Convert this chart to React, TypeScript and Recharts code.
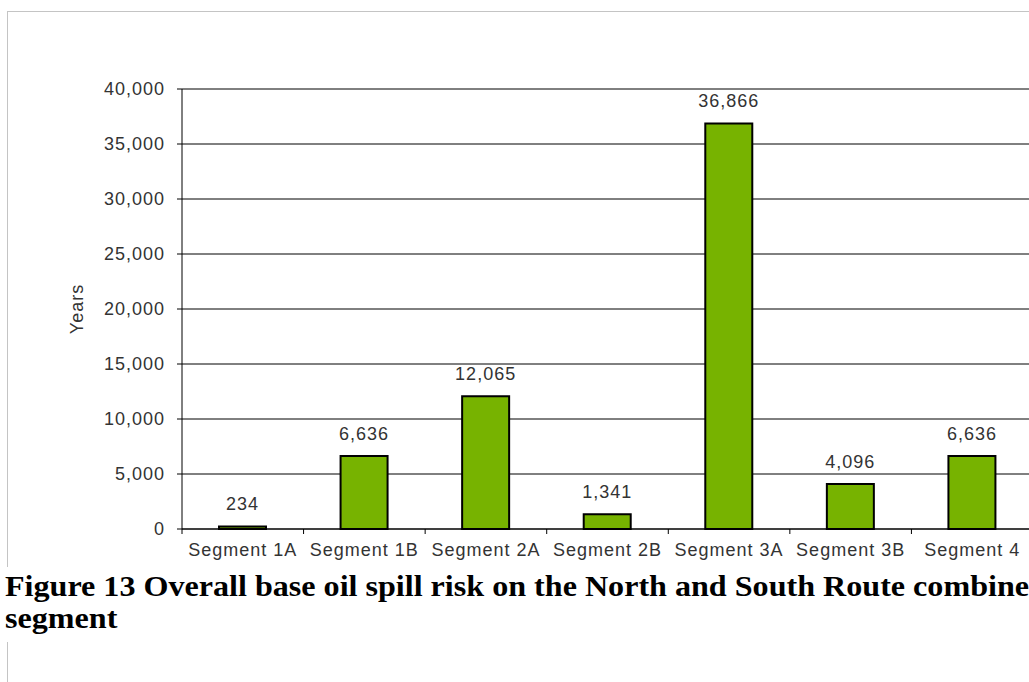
import { BarChart, Bar, XAxis, YAxis, CartesianGrid, LabelList } from 'recharts'

const categories = ['Segment 1A', 'Segment 1B', 'Segment 2A', 'Segment 2B', 'Segment 3A', 'Segment 3B', 'Segment 4']
const years = [234, 6636, 12065, 1341, 36866, 4096, 6636]
const yTicks = [0, 5000, 10000, 15000, 20000, 25000, 30000, 35000, 40000]

const data = categories.map((name, i) => ({ name, years: years[i] }))

const font = 'Liberation Sans, Arial, sans-serif'
const fmt = (v: number) => Number(v).toLocaleString('en-US')

function SegmentTick(props: any) {
  const { x, y, payload } = props
  const half = payload && payload.offset ? payload.offset : 60.8
  return (
    <g>
      <line x1={x - half} x2={x - half} y1={y} y2={y + 5} stroke="#000" />
      <text x={x} y={y + 27} textAnchor="middle" fill="#333" fontSize={18} letterSpacing={1} fontFamily={font}>
        {payload.value}
      </text>
    </g>
  )
}

function YearsLabel(props: any) {
  const vb = props.viewBox || { x: 0, y: 89, width: 182, height: 440 }
  const cx = vb.x + 77
  const cy = vb.y + vb.height / 2
  return (
    <text x={cx} y={cy} transform={`rotate(-90, ${cx}, ${cy})`} textAnchor="middle" dominantBaseline="central"
      fill="#333" fontSize={18} letterSpacing={1} fontFamily={font}>
      Years
    </text>
  )
}

export default function App() {
  return (
    <div style={{ position: 'fixed', left: 0, top: 0, width: 1029, height: 682, overflow: 'hidden', background: '#fff' }}>
      <div style={{ position: 'absolute', left: 7, top: 11, width: 1200, height: 800, borderLeft: '1px solid #c4c4c4', borderTop: '1px solid #c4c4c4' }} />
      <div style={{ position: 'absolute', left: 0, top: 0 }}>
        <BarChart width={1033} height={569} data={data} margin={{ top: 89, right: 0, bottom: 0, left: 0 }}>
          <CartesianGrid vertical={false} stroke="#000" />
          <XAxis dataKey="name" height={40} stroke="#000" tickLine={false} tickSize={0} tickMargin={0}
            tick={<SegmentTick />} interval={0} />
          <YAxis width={182} domain={[0, 40000]} ticks={yTicks} stroke="#000" tickSize={5} tickMargin={12}
            tickFormatter={fmt} tick={{ fill: '#333', fontSize: 18, letterSpacing: 1, fontFamily: font }}
            label={<YearsLabel />} />
          <Bar dataKey="years" fill="#77b300" stroke="#000" strokeWidth={2} barSize={47} isAnimationActive={false}>
            <LabelList dataKey="years" position="top" offset={16} formatter={fmt}
              fill="#333" fontSize={18} letterSpacing={1} fontFamily={font} />
          </Bar>
        </BarChart>
      </div>
      <div style={{ position: 'absolute', left: 0, top: 567, paddingLeft: 5, paddingTop: 3, paddingBottom: 8, width: 1100,
        background: '#fff', fontFamily: 'Liberation Serif, Times New Roman, serif', fontWeight: 'bold', fontSize: 30,
        lineHeight: '32px', color: '#000', whiteSpace: 'nowrap', transform: 'scaleX(1.07)', transformOrigin: '5px 0' }}>
        Figure 13 Overall base oil spill risk on the North and South Route combined
        <br />
        segment
      </div>
    </div>
  )
}
